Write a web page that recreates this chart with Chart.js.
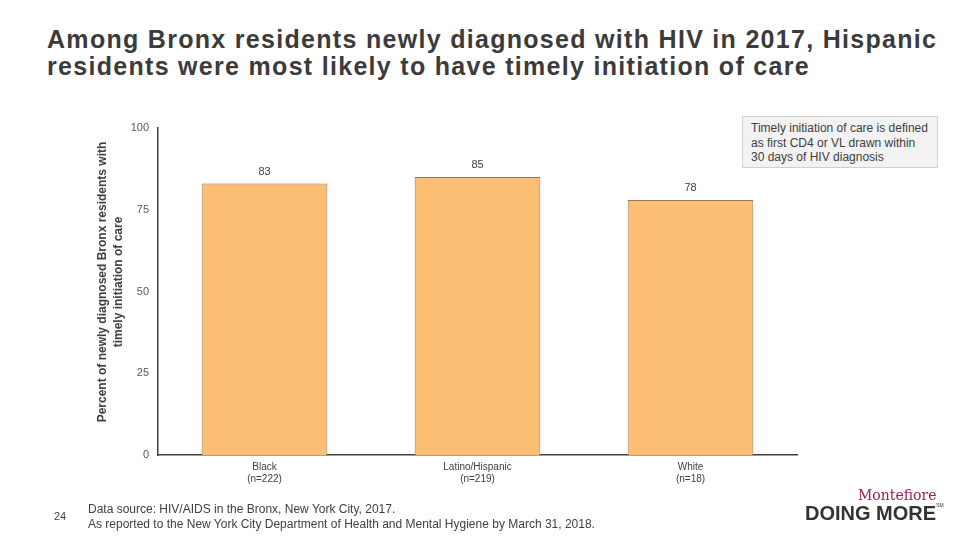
<!DOCTYPE html>
<html lang="en">
<head>
  <meta charset="UTF-8">
  <title>Timely initiation of care</title>
  <script src="https://cdn.jsdelivr.net/npm/chart.js"></script>
  <style>
    html, body { margin: 0; padding: 0; background: #fff; }
    body { width: 960px; height: 540px; position: relative; overflow: hidden; font-family: "Liberation Sans", Arial, sans-serif; color: #404040; }
    #chart { position: absolute; left: 0; top: 0; }
    .title {
      position: absolute; left: 47px; top: 26px; width: 912px; white-space: nowrap;
      font-size: 25px; font-weight: bold; line-height: 27px; letter-spacing: 1.3px; color: #3b3b3b;
    }
    /* y axis title, rotated */
    .ytitle {
      position: absolute; left: 110px; top: 282px; width: 330px; white-space: nowrap;
      transform: translate(-50%, -50%) rotate(-90deg);
      text-align: center; font-size: 12px; font-weight: bold; line-height: 16px; color: #404040;
    }
    .note {
      position: absolute; left: 742px; top: 116px; width: 196px; height: 52px;
      box-sizing: border-box; padding: 4px 6px 0 8px;
      background: #f2f2f2; border: 1px solid #cfcfcf;
      font-size: 12px; line-height: 14.5px; color: #404040;
    }
    .page { position: absolute; left: 54px; top: 510px; font-size: 11px; color: #404040; }
    .source { position: absolute; left: 88px; top: 502px; font-size: 12px; line-height: 15px; color: #404040; }
    .logo1 { position: absolute; left: 858px; top: 487px; font-family: "DejaVu Serif", "Liberation Serif", serif; font-size: 14px; color: #9c1d5b; }
    .logo2 { position: absolute; left: 805px; top: 502px; font-size: 20px; font-weight: bold; color: #333; }
    .logo2 sup { font-size: 5px; font-weight: normal; vertical-align: top; }
  </style>
</head>
<body>

<div class="title">Among Bronx residents newly diagnosed with HIV in 2017, Hispanic<br>residents were most likely to have timely initiation of care</div>
<canvas id="chart" width="960" height="540"></canvas>
<div class="ytitle">Percent of newly diagnosed Bronx residents with<br>timely initiation of care</div>
<div class="note">Timely initiation of care is defined as first CD4 or VL drawn within 30 days of HIV diagnosis</div>
<div class="page">24</div>
<div class="source">Data source: HIV/AIDS in the Bronx, New York City, 2017.<br>As reported to the New York City Department of Health and Mental Hygiene by March 31, 2018.</div>
<div class="logo1">Montefiore</div>
<div class="logo2">DOING MORE<sup>SM</sup></div>

<script>
  // 데이터
  const groups = [['Black', '(n=222)'], ['Latino/Hispanic', '(n=219)'], ['White', '(n=18)']];
  const percents = [83, 85, 78];
  const yTicks = [0, 25, 50, 75, 100];

  // 막대 위에 값 표시
  const valueLabels = {
    id: 'valueLabels',
    afterDatasetsDraw(chart) {
      const { ctx } = chart;
      const meta = chart.getDatasetMeta(0);
      ctx.save();
      ctx.font = '11px "Liberation Sans", Arial, sans-serif';
      ctx.fillStyle = '#404040';
      ctx.textAlign = 'center';
      ctx.textBaseline = 'middle';
      meta.data.forEach((bar, i) => {
        ctx.fillText(String(percents[i]), bar.x, bar.y - 12);
      });
      ctx.restore();
    }
  };

  new Chart(document.getElementById('chart'), {
    type: 'bar',
    data: {
      labels: groups,
      datasets: [{
        data: percents,
        backgroundColor: '#fcbe72',
        borderColor: '#8e7b5e',
        borderWidth: 1,
        barPercentage: 0.59,
        categoryPercentage: 1
      }]
    },
    options: {
      responsive: false,
      animation: false,
      layout: { padding: { left: 0, top: 128, right: 163, bottom: 0 } },
      plugins: { legend: { display: false }, tooltip: { enabled: false } },
      scales: {
        x: {
          grid: { display: false, drawTicks: false },
          border: { display: true, color: '#404040', width: 1.5 },
          ticks: { color: '#404040', font: { size: 10, family: '"Liberation Sans", Arial, sans-serif' }, padding: 6, maxRotation: 0 },
          afterFit: s => { s.height = 85; }
        },
        y: {
          min: 0, max: 100,
          afterBuildTicks: s => { s.ticks = yTicks.map(v => ({ value: v })); },
          grid: { display: false, drawTicks: false },
          border: { display: true, color: '#404040', width: 1.5 },
          ticks: { color: '#595959', font: { size: 11, family: '"Liberation Sans", Arial, sans-serif' }, padding: 9 },
          afterFit: s => { s.width = 158; }
        }
      }
    },
    plugins: [valueLabels]
  });
</script>

</body>
</html>
